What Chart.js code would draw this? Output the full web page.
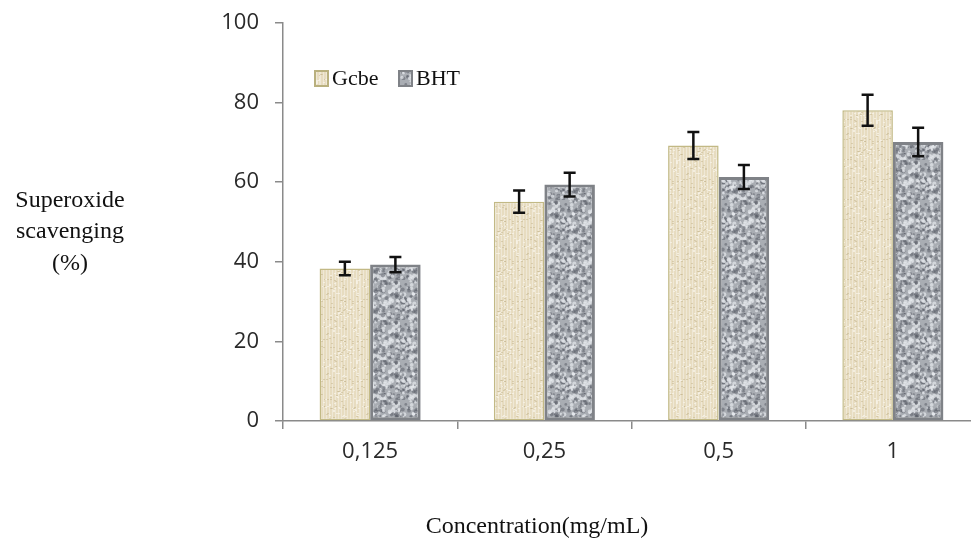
<!DOCTYPE html>
<html>
<head>
<meta charset="utf-8">
<script src="https://cdn.jsdelivr.net/npm/chart.js@4.4.1/dist/chart.umd.min.js"></script>
<style>
  html, body { margin: 0; padding: 0; background: #fff; overflow: hidden; }
  #wrap { position: relative; width: 980px; height: 544px; }
</style>
</head>
<body>
<div id="wrap"><canvas id="chart"></canvas></div>
<script>
// values
const categories = ['0,125', '0,25', '0,5', '1'];
const gcbe = [38.3, 55.1, 69.2, 78.1];
const gcbeErr = [1.7, 2.8, 3.4, 3.9];
const bht = [39.3, 59.4, 61.3, 70.1];
const bhtErr = [1.9, 3.0, 3.0, 3.6];
const yTicks = [0, 20, 40, 60, 80, 100];

// tiny deterministic hash, only used to texture the bar fills
function hash(n) {
    const s = Math.sin(n * 12.9898 + 78.233) * 43758.5453;
    return s - Math.floor(s);
}

function makePattern(kind) {
    const c = document.createElement('canvas');
    c.width = 40; c.height = 40;
    const g = c.getContext('2d');
    if (kind === 'beige') {
        g.fillStyle = '#e7dcc0';
        g.fillRect(0, 0, 40, 40);
        // faint woven lines
        for (let x = 0; x < 40; x += 3) {
            g.fillStyle = 'rgba(255,255,255,0.35)';
            g.fillRect(x, 0, 1, 40);
        }
        for (let i = 0; i < 120; i++) {
            const x = Math.floor(hash(i) * 40), y = Math.floor(hash(i + 500) * 40);
            g.fillStyle = hash(i + 900) > 0.5 ? 'rgba(195,180,140,0.5)' : 'rgba(250,245,235,0.7)';
            g.fillRect(x, y, 2, 1);
        }
    } else {
        g.fillStyle = '#a9adb3';
        g.fillRect(0, 0, 40, 40);
        for (let i = 0; i < 220; i++) {
            const x = hash(i + 40) * 40, y = hash(i + 1300) * 40;
            const r = 0.7 + hash(i + 2100) * 1.5;
            g.fillStyle = hash(i + 3000) > 0.5 ? 'rgba(85,90,100,0.5)' : 'rgba(230,232,236,0.7)';
            g.beginPath();
            g.arc(x, y, r, 0, Math.PI * 2);
            g.fill();
        }
    }
    return g.createPattern(c, 'repeat');
}

const ctx = document.getElementById('chart').getContext('2d');
const beigeFill = makePattern('beige');
const greyFill = makePattern('grey');

// error bars drawn from the same scales as the bars
const errorBars = {
    id: 'errorBars',
    afterDatasetsDraw(chart) {
        const g = chart.ctx;
        const yScale = chart.scales.y;
        const errs = [gcbeErr, bhtErr];
        chart.data.datasets.forEach((ds, di) => {
            const meta = chart.getDatasetMeta(di);
            meta.data.forEach((bar, i) => {
                const v = ds.data[i], e = errs[di][i];
                const top = yScale.getPixelForValue(v + e);
                const bot = yScale.getPixelForValue(v - e);
                g.save();
                g.strokeStyle = '#111';
                g.lineWidth = 2.5;
                g.beginPath();
                g.moveTo(bar.x, top); g.lineTo(bar.x, bot);
                g.moveTo(bar.x - 6, top); g.lineTo(bar.x + 6, top);
                g.moveTo(bar.x - 6, bot); g.lineTo(bar.x + 6, bot);
                g.stroke();
                g.restore();
            });
        });
    }
};

// axis titles and the in-plot legend
const extras = {
    id: 'extras',
    afterDraw(chart) {
        const g = chart.ctx;
        g.save();
        g.fillStyle = '#111';
        g.font = '24px "Liberation Serif", "DejaVu Serif", serif';
        g.textAlign = 'center';
        g.textBaseline = 'middle';
        g.fillText('Superoxide', 70, 201);
        g.fillText('scavenging', 70, 232);
        g.fillText('(%)', 70, 264);
        g.fillText('Concentration(mg/mL)', 537, 527);

        // legend
        const items = [
            { label: chart.data.datasets[0].label, fill: beigeFill, border: '#b9b07e', x: 315 },
            { label: chart.data.datasets[1].label, fill: greyFill, border: '#7f8287', x: 399 }
        ];
        g.font = '22px "Liberation Serif", "DejaVu Serif", serif';
        g.textAlign = 'left';
        items.forEach(it => {
            g.fillStyle = it.fill;
            g.fillRect(it.x, 71, 13, 15);
            g.strokeStyle = it.border;
            g.lineWidth = 2;
            g.strokeRect(it.x, 71, 13, 15);
            g.fillStyle = '#111';
            g.fillText(it.label, it.x + 17, 79);
        });
        g.restore();
    }
};

new Chart(ctx, {
    type: 'bar',
    data: {
        labels: categories,
        datasets: [
            {
                label: 'Gcbe',
                data: gcbe,
                backgroundColor: beigeFill,
                borderColor: '#c2b985',
                borderWidth: 1.5,
                borderSkipped: false
            },
            {
                label: 'BHT',
                data: bht,
                backgroundColor: greyFill,
                borderColor: '#7f8287',
                borderWidth: 3,
                borderSkipped: false
            }
        ]
    },
    options: {
        responsive: true,
        maintainAspectRatio: false,
        animation: false,
        layout: { padding: { left: 223, top: 23, right: 0, bottom: 0 } },
        datasets: { bar: { categoryPercentage: 0.58, barPercentage: 1.0 } },
        plugins: {
            legend: { display: false },
            tooltip: { enabled: false }
        },
        scales: {
            x: {
                grid: {
                    display: true,
                    offset: true,
                    drawOnChartArea: false,
                    drawTicks: true,
                    tickLength: 8,
                    color: '#8a8a8a',
                    lineWidth: 1.5
                },
                border: { color: '#8a8a8a', width: 1.5 },
                ticks: {
                    color: '#2a2a2a',
                    padding: 10,
                    font: { family: '"Open Sans", "Liberation Sans", sans-serif', size: 22 }
                },
                afterFit(scale) {
                    scale.height = 123;
                    scale.paddingLeft = 0;
                    scale.paddingRight = 0;
                }
            },
            y: {
                min: 0,
                max: 100,
                afterBuildTicks(scale) { scale.ticks = yTicks.map(v => ({ value: v })); },
                grid: {
                    display: true,
                    drawOnChartArea: false,
                    drawTicks: true,
                    tickLength: 8,
                    color: '#8a8a8a',
                    lineWidth: 1.5
                },
                border: { color: '#8a8a8a', width: 1.5 },
                ticks: {
                    color: '#2a2a2a',
                    padding: 16,
                    font: { family: '"Open Sans", "Liberation Sans", sans-serif', size: 22 }
                },
                afterFit(scale) {
                    scale.width = 60;
                    scale.paddingTop = 0;
                    scale.paddingBottom = 0;
                }
            }
        }
    },
    plugins: [errorBars, extras]
});
</script>
</body>
</html>
